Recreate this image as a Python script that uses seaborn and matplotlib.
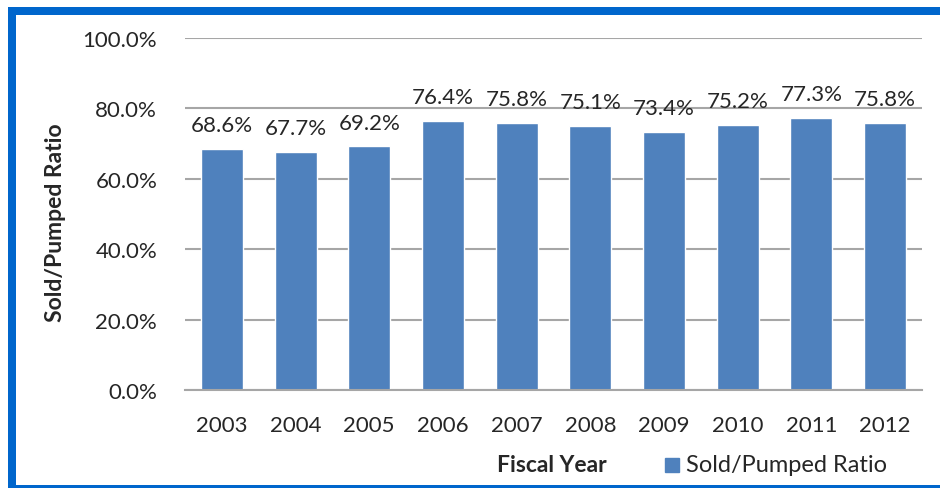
import numpy as np
import pandas as pd
import seaborn as sns
import matplotlib.pyplot as plt
from matplotlib.patches import Rectangle
from matplotlib.ticker import FuncFormatter

# Data
years = ['2003', '2004', '2005', '2006', '2007', '2008', '2009', '2010', '2011', '2012']
ratio = [68.6, 67.7, 69.2, 76.4, 75.8, 75.1, 73.4, 75.2, 77.3, 75.8]

bar_color = '#4F81BD'
border_color = '#0066CC'
text_color = '#262626'

sns.set_style('white')
plt.rcParams['font.family'] = ['Lato', 'DejaVu Sans']

df = pd.DataFrame({'year': years, 'ratio': ratio})

fig = plt.figure(figsize=(9.4, 4.89), dpi=100)
ax = fig.add_axes([185 / 940, 1 - 391 / 489, 737 / 940, 352 / 489])

sns.barplot(data=df, x='year', y='ratio', color=bar_color, width=0.57,
            saturation=1, ax=ax)

ax.set_ylim(0, 100)
ax.set_yticks(np.arange(0, 101, 20))
ax.yaxis.set_major_formatter(FuncFormatter(lambda v, p: f'{v:.1f}%'))
ax.grid(axis='y', color='#A6A6A6', linewidth=1.5)
ax.set_axisbelow(True)
for s in ['top', 'right', 'left']:
    ax.spines[s].set_visible(False)
ax.spines['bottom'].set_color('#A6A6A6')
ax.spines['bottom'].set_linewidth(1.5)
ax.tick_params(axis='both', length=0, labelsize=16, colors=text_color)
ax.tick_params(axis='y', pad=20)
ax.tick_params(axis='x', pad=18)

ax.bar_label(ax.containers[0], labels=[f'{v:.1f}%' for v in ratio],
             fontsize=16, color=text_color, padding=10)

ax.set_xlabel('')
ax.set_ylabel('')
fig.text(55 / 940, 1 - 223 / 489, 'Sold/Pumped Ratio', fontsize=16.5,
         fontweight='bold', rotation=90, ha='center', va='center', color=text_color)
fig.text(552 / 940, 1 - 466 / 489, 'Fiscal Year', fontsize=16.5, fontweight='bold',
         ha='center', va='center', color=text_color)

# legend
fig.patches.append(Rectangle((665 / 940, 1 - 473 / 489), 14 / 940, 14 / 489,
                             transform=fig.transFigure, color=bar_color))
fig.text(686 / 940, 1 - 466 / 489, 'Sold/Pumped Ratio', fontsize=17,
         ha='left', va='center', color=text_color)

# blue frame around the picture: left, top and bottom strips (pixel boxes)
for x0, y0, w, h in [(8, 8, 8, 481), (8, 8, 932, 8), (8, 486, 932, 3)]:
    fig.patches.append(Rectangle((x0 / 940, 1 - (y0 + h) / 489), w / 940, h / 489,
                                 transform=fig.transFigure, color=border_color,
                                 linewidth=0))

fig.savefig('out.png', dpi=100)
